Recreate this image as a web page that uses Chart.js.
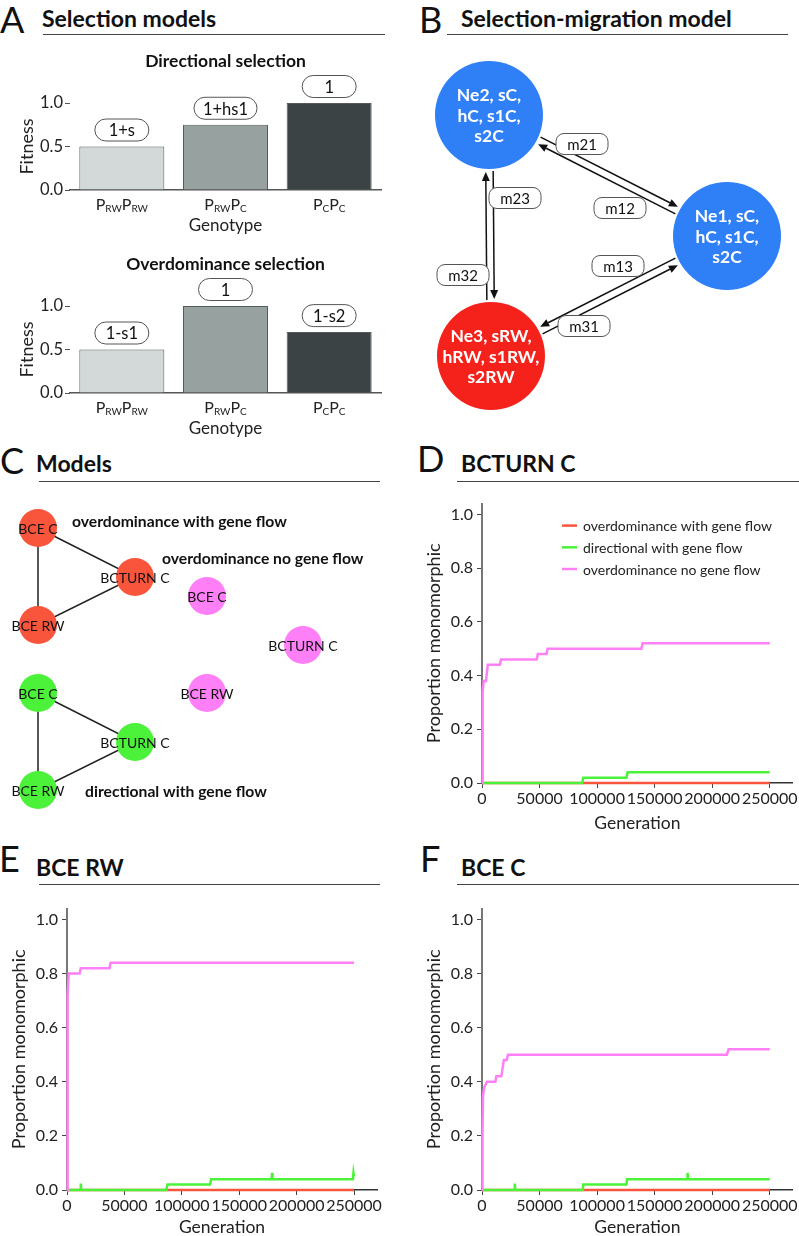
<!DOCTYPE html>
<html lang="en">
<head>
<meta charset="UTF-8">
<title>Selection models and monomorphism</title>
<script src="https://cdn.jsdelivr.net/npm/chart.js"></script>
<style>
  body { margin: 0; width: 799px; height: 1236px; position: relative; background: #fff; overflow: hidden; font-family: Lato, sans-serif; color: #111; }
  canvas { position: absolute; }
  .letter { position: absolute; font-size: 36px; line-height: 36px; font-weight: 400; }
  .head { position: absolute; font-size: 23px; line-height: 23px; font-weight: 700; white-space: nowrap; }
  .rule { position: absolute; height: 0; border-top: 1.3px solid #444; }
</style>
</head>
<body>
  <div class="letter" style="left:0px;top:1px">A</div>
  <div class="head" style="left:42px;top:7px">Selection models</div>
  <div class="rule" style="left:43px;top:34px;width:342px"></div>

  <div class="letter" style="left:419px;top:1px">B</div>
  <div class="head" style="left:461px;top:7px">Selection-migration model</div>
  <div class="rule" style="left:447px;top:34px;width:341px"></div>

  <div class="letter" style="left:0px;top:442px">C</div>
  <div class="head" style="left:36px;top:452px">Models</div>
  <div class="rule" style="left:39px;top:481px;width:341px"></div>

  <div class="letter" style="left:417px;top:440px">D</div>
  <div class="head" style="left:461px;top:452px">BCTURN C</div>
  <div class="rule" style="left:457px;top:481px;width:342px"></div>

  <div class="letter" style="left:-1px;top:840px">E</div>
  <div class="head" style="left:36px;top:856px">BCE RW</div>
  <div class="rule" style="left:39px;top:884px;width:341px"></div>

  <div class="letter" style="left:420px;top:840px">F</div>
  <div class="head" style="left:461px;top:856px">BCE C</div>
  <div class="rule" style="left:457px;top:884px;width:342px"></div>

  <canvas id="fitDir" width="395" height="195" style="left:0px;top:45px"></canvas>
  <canvas id="fitOd" width="395" height="195" style="left:0px;top:248px"></canvas>
  <canvas id="migration" width="399" height="380" style="left:400px;top:40px"></canvas>
  <canvas id="models" width="400" height="320" style="left:0px;top:490px"></canvas>
  <canvas id="turnC" width="399" height="345" style="left:400px;top:490px"></canvas>
  <canvas id="bceRW" width="395" height="341" style="left:0px;top:895px"></canvas>
  <canvas id="bceC" width="399" height="341" style="left:400px;top:895px"></canvas>

<script>
// ---- A: fitness of each genotype ----
const genotypes = ['P{RW}P{RW}', 'P{RW}P{C}', 'P{C}P{C}'];
const dirFitness = [0.5, 0.75, 1.0];
const dirLabels = ['1+s', '1+hs1', '1'];
const odFitness = [0.5, 1.0, 0.7];
const odLabels = ['1-s1', '1', '1-s2'];

// ---- B: three populations and migration between them ----
const popText = [
    ['Ne1, sC,', 'hC, s1C,', 's2C'],
    ['Ne2, sC,', 'hC, s1C,', 's2C'],
    ['Ne3, sRW,', 'hRW, s1RW,', 's2RW']
];
const popX = [327, 89, 91];
const popY = [196, 75, 316];
const migLabels = ['m21', 'm12', 'm23', 'm32', 'm13', 'm31'];
const migFrom = [1, 0, 1, 2, 0, 2];
const migTo = [0, 1, 2, 1, 2, 0];
const migSide = [-1, -1, -1, -1, 1, 1];
const migLabelX = [182, 220, 115, 63, 218, 184];
const migLabelY = [104, 168, 158, 235, 226, 286];

// ---- C: model graphs ----
const siteNames = ['BCE C', 'BCTURN C', 'BCE RW'];
const odFlowX = [38, 135, 38];
const odFlowY = [38, 87, 135];
const odNoFlowX = [207, 303, 207];
const odNoFlowY = [106, 155, 203];
const dirFlowX = [38, 135, 38];
const dirFlowY = [203, 252, 300];

// ---- D, E, F: proportion monomorphic over generations ----
const genTicks = [0, 50000, 100000, 150000, 200000, 250000];

// D: BCTURN C
const turnOdFlowGen = [0, 250000];
const turnOdFlowVal = [0, 0];
const turnDirFlowGen = [0, 87000, 88000, 125500, 126500, 250000];
const turnDirFlowVal = [0, 0, 0.02, 0.02, 0.04, 0.04];
const turnNoFlowGen = [0, 300, 800, 1500, 3500, 5000, 15500, 16500, 47500, 48500, 56000, 57000, 138500, 139500, 250000];
const turnNoFlowVal = [0, 0.2, 0.34, 0.38, 0.38, 0.44, 0.44, 0.46, 0.46, 0.48, 0.48, 0.50, 0.50, 0.52, 0.52];

// E: BCE RW
const rwOdFlowGen = [0, 250000];
const rwOdFlowVal = [0, 0];
const rwDirFlowGen = [0, 11500, 12000, 12500, 86500, 87500, 124500, 125500, 178200, 178600, 179000, 249000, 249500, 250000];
const rwDirFlowVal = [0, 0, 0.024, 0, 0, 0.02, 0.02, 0.04, 0.04, 0.063, 0.04, 0.04, 0.063, 0.05];
const rwNoFlowGen = [0, 300, 800, 1500, 11000, 12000, 37000, 38000, 250000];
const rwNoFlowVal = [0, 0.6, 0.72, 0.80, 0.80, 0.82, 0.82, 0.84, 0.84];

// F: BCE C
const cOdFlowGen = [0, 250000];
const cOdFlowVal = [0, 0];
const cDirFlowGen = [0, 28000, 28500, 29000, 87500, 88000, 125500, 126000, 178200, 178600, 179000, 250000];
const cDirFlowVal = [0, 0, 0.024, 0, 0, 0.02, 0.02, 0.04, 0.04, 0.063, 0.04, 0.04];
const cNoFlowGen = [0, 400, 900, 2000, 4400, 11600, 12500, 16800, 19000, 21500, 22600, 212800, 214300, 250000];
const cNoFlowVal = [0, 0.2, 0.35, 0.38, 0.40, 0.40, 0.42, 0.42, 0.48, 0.48, 0.50, 0.50, 0.52, 0.52];

const RED = '#f8553c';
const GREEN = '#4cf23a';
const PINK = '#ff80f6';
const BLUE = '#2f7ff7';
const DARKRED = '#f5221b';

Chart.defaults.font.family = 'Lato';
Chart.defaults.color = '#222';
Chart.defaults.animation = false;
Chart.defaults.responsive = false;
Chart.defaults.devicePixelRatio = 1;
Chart.defaults.layout.autoPadding = false;
Chart.defaults.plugins.legend.display = false;
Chart.defaults.plugins.tooltip.enabled = false;

function drawPill(ctx, cx, cy, text, font, minW, h, r) {
    ctx.save();
    ctx.font = font;
    const w = Math.max(minW, ctx.measureText(text).width + 18);
    ctx.beginPath();
    ctx.roundRect(cx - w / 2, cy - h / 2, w, h, r);
    ctx.fillStyle = '#fff';
    ctx.fill();
    ctx.strokeStyle = '#555';
    ctx.lineWidth = 1;
    ctx.stroke();
    ctx.fillStyle = '#111';
    ctx.textAlign = 'center';
    ctx.textBaseline = 'middle';
    ctx.fillText(text, cx, cy + 1);
    ctx.restore();
}

// pill labels over the bars
const pillPlugin = {
    id: 'pillLabels',
    afterDatasetsDraw(chart, args, opts) {
        chart.getDatasetMeta(0).data.forEach((bar, i) => {
            drawPill(chart.ctx, bar.x, bar.y - 16.5, opts.texts[i], '16.5px Lato', 54, 22, 11);
        });
    }
};

// genotype names with subscripts, e.g. P{RW}
const genotypePlugin = {
    id: 'genotypeTicks',
    afterDraw(chart) {
        const ctx = chart.ctx;
        const xs = chart.scales.x;
        const base = chart.chartArea.bottom + 19.5;
        chart.data.labels.forEach((lab, i) => {
            const parts = lab.split(/(\{[^}]*\})/).filter(Boolean)
                .map(p => p[0] === '{' ? [p.slice(1, -1), true] : [p, false]);
            ctx.save();
            ctx.fillStyle = '#222';
            ctx.textAlign = 'left';
            ctx.textBaseline = 'alphabetic';
            let w = 0;
            parts.forEach(p => { ctx.font = p[1] ? '10px Lato' : '16px Lato'; w += ctx.measureText(p[0]).width; });
            let x = xs.getPixelForTick(i) - w / 2;
            parts.forEach(p => {
                ctx.font = p[1] ? '10px Lato' : '16px Lato';
                ctx.fillText(p[0], x, base + (p[1] ? 2 : 0));
                x += ctx.measureText(p[0]).width;
            });
            ctx.restore();
        });
    }
};

function fitnessChart(id, title, values, texts) {
    return new Chart(document.getElementById(id), {
        type: 'bar',
        data: {
            labels: genotypes,
            datasets: [{
                data: values,
                backgroundColor: ['#d3d8d8', '#97a2a0', '#3c4345'],
                borderColor: '#555b5c',
                borderWidth: 1,
                barPercentage: 0.82,
                categoryPercentage: 1
            }]
        },
        options: {
            layout: { padding: { right: 14 } },
            plugins: {
                title: {
                    display: true, text: title, fullSize: false, color: '#111',
                    font: { size: 17.5, weight: 'bold', lineHeight: 1.2 }, padding: { top: 6, bottom: 31 }
                },
                pillLabels: { texts: texts }
            },
            scales: {
                x: {
                    grid: { display: false },
                    ticks: { display: false },
                    border: { color: '#555', width: 1.5 },
                    title: { display: true, text: 'Genotype', font: { size: 17 }, padding: { top: 0, bottom: 4 } },
                    afterFit: s => { s.height = 50; }
                },
                y: {
                    min: 0, max: 1,
                    ticks: { stepSize: 0.5, font: { size: 16.5 }, padding: 2, callback: v => v.toFixed(1) },
                    grid: { drawOnChartArea: false, tickLength: 5, color: '#555' },
                    border: { display: false },
                    title: { display: true, text: 'Fitness', font: { size: 18 }, padding: { top: 16, bottom: 0 } },
                    afterFit: s => { s.width = 70; }
                }
            }
        },
        plugins: [pillPlugin, genotypePlugin]
    });
}

fitnessChart('fitDir', 'Directional selection', dirFitness, dirLabels);
fitnessChart('fitOd', 'Overdominance selection', odFitness, odLabels);

// ---- B ----
const POP_R = 54;
const migrationPlugin = {
    id: 'migration',
    beforeDatasetsDraw(chart) {
        const ctx = chart.ctx;
        const xs = chart.scales.x, ys = chart.scales.y;
        ctx.save();
        ctx.strokeStyle = '#111';
        ctx.fillStyle = '#111';
        ctx.lineWidth = 1.5;
        migFrom.forEach((f, i) => {
            const t = migTo[i];
            const ax = xs.getPixelForValue(popX[f]), ay = ys.getPixelForValue(popY[f]);
            const bx = xs.getPixelForValue(popX[t]), by = ys.getPixelForValue(popY[t]);
            const len = Math.hypot(bx - ax, by - ay);
            const ux = (bx - ax) / len, uy = (by - ay) / len;
            const nx = -uy * 3.7 * migSide[i], ny = ux * 3.7 * migSide[i];
            const sx = ax + ux * (POP_R + 2) + nx, sy = ay + uy * (POP_R + 2) + ny;
            const ex = bx - ux * (POP_R + 3) + nx, ey = by - uy * (POP_R + 3) + ny;
            const hx = ex - ux * 9, hy = ey - uy * 9;
            ctx.beginPath();
            ctx.moveTo(sx, sy);
            ctx.lineTo(hx, hy);
            ctx.stroke();
            ctx.beginPath();
            ctx.moveTo(ex, ey);
            ctx.lineTo(hx - uy * 4, hy + ux * 4);
            ctx.lineTo(hx + uy * 4, hy - ux * 4);
            ctx.closePath();
            ctx.fill();
        });
        ctx.restore();
    },
    afterDatasetsDraw(chart) {
        const ctx = chart.ctx;
        const xs = chart.scales.x, ys = chart.scales.y;
        migLabels.forEach((lab, i) => {
            drawPill(ctx, xs.getPixelForValue(migLabelX[i]), ys.getPixelForValue(migLabelY[i]), lab, '15px Lato', 52, 21, 8);
        });
        ctx.save();
        ctx.fillStyle = '#fff';
        ctx.font = 'bold 17.5px Lato';
        ctx.textAlign = 'center';
        ctx.textBaseline = 'middle';
        chart.getDatasetMeta(0).data.forEach((pt, i) => {
            popText[i].forEach((line, k) => {
                ctx.fillText(line, pt.x, pt.y + 1 + (k - 1) * 20.5);
            });
        });
        ctx.restore();
    }
};

new Chart(document.getElementById('migration'), {
    type: 'scatter',
    data: {
        datasets: [{
            data: popX.map((x, i) => ({ x: x, y: popY[i] })),
            pointRadius: POP_R,
            pointBackgroundColor: [BLUE, BLUE, DARKRED],
            pointBorderWidth: 0,
            clip: false
        }]
    },
    options: {
        layout: { padding: 0 },
        scales: {
            x: { type: 'linear', min: 0, max: 399, display: false },
            y: { type: 'linear', min: 0, max: 380, reverse: true, display: false }
        }
    },
    plugins: [migrationPlugin]
});

// ---- C ----
function graphSets(xs, ys, color, edges) {
    const pts = xs.map((x, i) => ({ x: x, y: ys[i] }));
    const sets = [{
        data: pts, pointRadius: 19, pointBackgroundColor: color, pointBorderWidth: 0, order: 1, clip: false
    }];
    if (edges) {
        sets.push({
            data: [pts[0], pts[1], pts[2], pts[0]], showLine: true, pointRadius: 0,
            borderColor: '#222', borderWidth: 1.5, order: 5
        });
    }
    return sets;
}

const modelsPlugin = {
    id: 'modelText',
    afterDatasetsDraw(chart, args, opts) {
        const ctx = chart.ctx;
        const xs = chart.scales.x, ys = chart.scales.y;
        ctx.save();
        ctx.fillStyle = '#111';
        ctx.textBaseline = 'middle';
        ctx.textAlign = 'center';
        ctx.font = '14px Lato';
        chart.data.datasets.forEach((ds, d) => {
            if (ds.showLine) return;
            chart.getDatasetMeta(d).data.forEach((pt, i) => {
                ctx.fillText(siteNames[i], pt.x, pt.y + 1);
            });
        });
        ctx.textAlign = 'left';
        ctx.font = 'bold 15.7px Lato';
        opts.groups.forEach(g => {
            ctx.fillText(g.text, xs.getPixelForValue(g.x), ys.getPixelForValue(g.y));
        });
        ctx.restore();
    }
};

new Chart(document.getElementById('models'), {
    type: 'scatter',
    data: {
        datasets: [
            ...graphSets(odFlowX, odFlowY, RED, true),
            ...graphSets(odNoFlowX, odNoFlowY, PINK, false),
            ...graphSets(dirFlowX, dirFlowY, GREEN, true)
        ]
    },
    options: {
        layout: { padding: 0 },
        plugins: {
            modelText: {
                groups: [
                    { text: 'overdominance with gene flow', x: 72, y: 32 },
                    { text: 'overdominance no gene flow', x: 162, y: 69 },
                    { text: 'directional with gene flow', x: 85, y: 302 }
                ]
            }
        },
        scales: {
            x: { type: 'linear', min: 0, max: 400, display: false },
            y: { type: 'linear', min: 0, max: 320, reverse: true, display: false }
        }
    },
    plugins: [modelsPlugin]
});

// ---- D, E, F ----
const legendPlugin = {
    id: 'monoLegend',
    afterDraw(chart, args, opts) {
        if (!opts.show) return;
        const ctx = chart.ctx;
        const a = chart.chartArea;
        ctx.save();
        ctx.font = '14px Lato';
        ctx.textBaseline = 'middle';
        ctx.textAlign = 'left';
        chart.data.datasets.forEach((ds, i) => {
            const y = a.top + 22 + i * 21.7;
            ctx.strokeStyle = ds.borderColor;
            ctx.lineWidth = 2.5;
            ctx.beginPath();
            ctx.moveTo(a.left + 80, y);
            ctx.lineTo(a.left + 95, y);
            ctx.stroke();
            ctx.fillStyle = '#222';
            ctx.fillText(ds.label, a.left + 101, y + 1);
        });
        ctx.restore();
    }
};

function xy(gens, vals) {
    return gens.map((g, i) => ({ x: g, y: vals[i] }));
}

function monoChart(id, odFlow, dirFlow, noFlow, o) {
    return new Chart(document.getElementById(id), {
        type: 'line',
        data: {
            datasets: [
                { label: 'overdominance with gene flow', data: odFlow, borderColor: RED, order: 3, clip: false },
                { label: 'directional with gene flow', data: dirFlow, borderColor: GREEN, order: 2, clip: false },
                { label: 'overdominance no gene flow', data: noFlow, borderColor: PINK, order: 1, clip: false }
            ]
        },
        options: {
            elements: { point: { radius: 0 }, line: { borderWidth: 2.5, tension: 0 } },
            layout: { padding: { top: o.top, right: o.right, left: 0, bottom: 0 } },
            plugins: { monoLegend: { show: o.legend } },
            scales: {
                x: {
                    type: 'linear', min: 0, max: 270000,
                    afterBuildTicks: s => { s.ticks = genTicks.map(v => ({ value: v })); },
                    ticks: { autoSkip: false, maxRotation: 0, font: { size: 16 }, padding: 1,
                             callback: v => String(v) },
                    grid: { drawOnChartArea: false, tickLength: 5, color: '#444' },
                    border: { color: '#333', width: 1.5 },
                    title: { display: true, text: 'Generation', font: { size: 17.5, lineHeight: 1 },
                             padding: { top: 0, bottom: o.genPad } },
                    afterFit: s => { s.height = o.xh; }
                },
                y: {
                    min: 0, max: 1.04,
                    ticks: { stepSize: 0.2, includeBounds: false, font: { size: 16 }, padding: 4,
                             callback: v => v.toFixed(1) },
                    grid: { drawOnChartArea: false, tickLength: 5, color: '#444' },
                    border: { color: '#777', width: 2 },
                    title: { display: true, text: 'Proportion monomorphic', font: { size: 18, lineHeight: 1.2 },
                             padding: { top: o.propPad, bottom: 0 } },
                    afterFit: s => { s.width = o.yw; }
                }
            }
        },
        plugins: [legendPlugin]
    });
}

monoChart('turnC', xy(turnOdFlowGen, turnOdFlowVal), xy(turnDirFlowGen, turnDirFlowVal), xy(turnNoFlowGen, turnNoFlowVal),
    { top: 8, right: 6, yw: 82, xh: 52, genPad: 3, propPad: 23, legend: true });
monoChart('bceRW', xy(rwOdFlowGen, rwOdFlowVal), xy(rwDirFlowGen, rwDirFlowVal), xy(rwNoFlowGen, rwNoFlowVal),
    { top: 11, right: 18, yw: 67, xh: 46, genPad: 0, propPad: 8, legend: false });
monoChart('bceC', xy(cOdFlowGen, cOdFlowVal), xy(cDirFlowGen, cDirFlowVal), xy(cNoFlowGen, cNoFlowVal),
    { top: 11, right: 6, yw: 82, xh: 46, genPad: 0, propPad: 23, legend: false });
</script>
</body>
</html>
